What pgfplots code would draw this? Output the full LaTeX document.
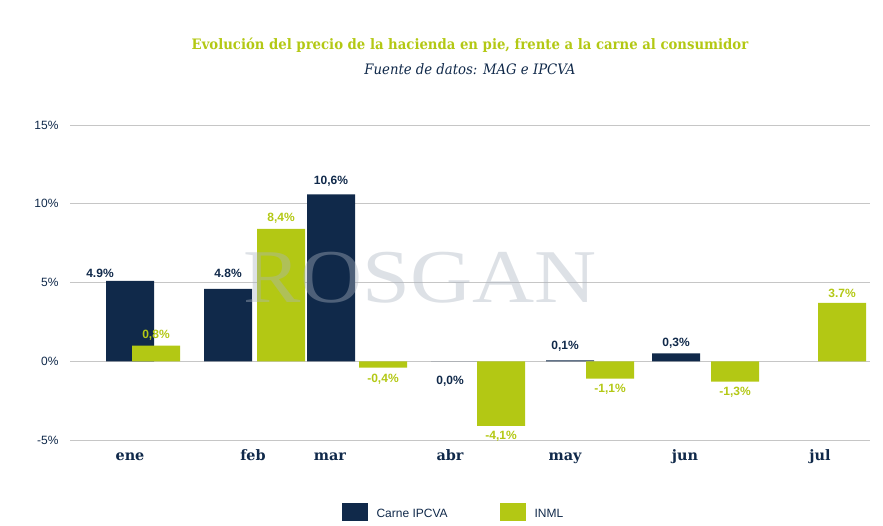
\documentclass[border=0pt]{standalone}
\usepackage{pgfplots}
\pgfplotsset{compat=1.18}
\usepackage{fontspec}
\setmainfont{DejaVu Serif}
\newfontfamily\sans{Liberation Sans}
\newfontfamily\wm{Liberation Serif}
\definecolor{navy}{HTML}{10294A}
\definecolor{lime}{HTML}{B3C814}
\begin{document}
\begin{tikzpicture}[x=1pt,y=1pt]
\path[use as bounding box] (0,0) rectangle (883,525);
\begin{axis}[at={(70pt,85pt)},anchor=south west,scale only axis,width=800pt,height=315pt,
 xmin=70,xmax=870,ymin=-5,ymax=15,axis line style={draw=none},clip=false,
 ymajorgrids,ytick={-5,0,5,10,15},grid style={color=gray!45,line width=0.9pt},
 ybar,bar width=48pt,bar shift=0pt,
 xtick={130,253,330,450,565,685,820},xticklabels={ene,feb,mar,abr,may,jun,jul},
 xticklabel style={font=\bfseries\Large,navy,yshift=-4pt,text height=1.6ex},
 yticklabel style={font=\sans\large,navy,xshift=-8pt},
 yticklabel={\pgfmathprintnumber{\tick}\%},
 /pgf/number format/assume math mode=true,
 tick style={draw=none}]
\addplot[fill=navy,draw=none] coordinates {(130,5.1)(228,4.6)(331,10.6)(455,0.0)(570,0.05)(676,0.5)};
\addplot[fill=lime,draw=none] coordinates {(156,1.0)(281,8.4)(383,-0.4)(501,-4.1)(610,-1.1)(735,-1.3)(842,3.7)};
\node[font=\wm,text=navy!35,opacity=0.4,xscale=8.6,yscale=7.6] at (axis cs:420,5.3) {ROSGAN};
\begin{scope}[font=\sans\bfseries\large,navy]
\node[above] at (axis cs:100,5.1) {4.9\%};
\node[above] at (axis cs:228,5.1) {4.8\%};
\node[above] at (axis cs:331,10.9) {10,6\%};
\node[below] at (axis cs:450,-0.7) {0,0\%};
\node[above] at (axis cs:565,0.4) {0,1\%};
\node[above] at (axis cs:676,0.6) {0,3\%};
\end{scope}
\begin{scope}[font=\sans\bfseries\large,lime]
\node[above] at (axis cs:156,1.1) {0,8\%};
\node[above] at (axis cs:281,8.5) {8,4\%};
\node[below] at (axis cs:383,-0.6) {-0,4\%};
\node[below] at (axis cs:501,-4.2) {-4,1\%};
\node[below] at (axis cs:610,-1.2) {-1,1\%};
\node[below] at (axis cs:735,-1.4) {-1,3\%};
\node[above] at (axis cs:842,3.8) {3.7\%};
\end{scope}
\end{axis}
\node[font=\bfseries\Large,text=lime,xscale=0.92] at (470,480) {Evolución del precio de la hacienda en pie, frente a la carne al consumidor};
\node[font=\itshape\Large,text=navy,xscale=0.92] at (470,456) {Fuente de datos: MAG e IPCVA};
\fill[navy] (342,4) rectangle (368,22);
\node[anchor=west,font=\sans\large,navy] at (373,12) {Carne IPCVA};
\fill[lime] (500,4) rectangle (526,22);
\node[anchor=west,font=\sans\large,navy] at (531,12) {INML};
\end{tikzpicture}
\end{document}
